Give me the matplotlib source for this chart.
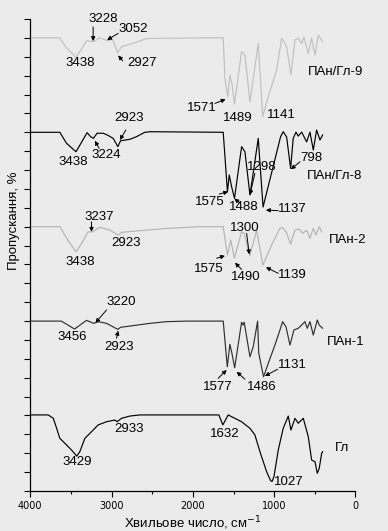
import matplotlib
matplotlib.use("Agg")
import matplotlib.pyplot as plt
from matplotlib.ticker import MultipleLocator

# ---------------- data ----------------
# ПАн/Гл-9
wn_g9 = [4000, 3637, 3560, 3438, 3305, 3228, 3145, 3052, 2988, 2927, 2878, 2739, 2566, 1852,
         1627, 1606, 1571, 1545, 1520, 1489, 1401, 1380, 1360, 1298, 1196, 1141, 1073, 970,
         908, 847, 794, 745, 704, 662, 634, 581, 539, 498, 458, 404]
t_g9 = [24.0, 24.0, 23.5, 22.97, 23.85, 23.80, 24.0, 23.85, 23.92, 23.21, 23.53, 23.71, 23.97, 24.0,
        24.0, 21.86, 20.88, 22.03, 21.61, 20.50, 23.27, 23.20, 23.09, 20.62, 23.71, 19.83, 20.88, 22.30,
        23.98, 23.53, 22.03, 23.89, 23.98, 23.71, 24.03, 23.18, 23.98, 23.09, 24.15, 23.80]

# ПАн/Гл-8
wn_g8 = [4000, 3637, 3555, 3438, 3301, 3259, 3224, 3178, 3104, 3055, 2981, 2923, 2890, 2775,
         2693, 2591, 2529, 1627, 1575, 1553, 1524, 1488, 1401, 1360, 1298, 1196, 1137, 921,
         889, 847, 798, 766, 732, 704, 662, 601, 560, 519, 478, 437, 404]
t_g8 = [19.0, 19.0, 18.42, 17.97, 18.98, 18.77, 18.68, 18.95, 18.95, 18.86, 18.68, 18.24, 18.55, 18.63,
        18.77, 19.0, 19.03, 19.0, 15.85, 16.74, 16.12, 15.50, 18.24, 17.97, 15.68, 18.68, 15.04, 18.77,
        19.03, 18.75, 17.09, 18.68, 19.01, 18.80, 19.01, 18.49, 19.01, 18.06, 19.12, 18.59, 18.86]

# ПАн-2
wn_p2 = [4000, 3637, 3539, 3438, 3366, 3289, 3237, 3145, 3022, 2923, 2878, 2652, 2324, 1914,
         1627, 1600, 1575, 1535, 1490, 1401, 1372, 1300, 1216, 1139, 1031, 929, 896, 847, 798,
         745, 695, 650, 601, 560, 519, 486, 446, 416]
t_p2 = [14.0, 14.0, 13.29, 12.67, 13.14, 13.73, 13.72, 13.97, 13.82, 13.56, 13.70, 13.79, 13.91, 14.0,
        14.0, 13.2, 12.50, 13.29, 12.33, 13.73, 13.67, 12.46, 13.82, 11.97, 13.03, 13.91, 13.95, 13.67, 13.07,
        13.82, 13.88, 13.65, 13.82, 13.38, 13.91, 13.56, 14.0, 13.73]

# ПАн-1
wn_p1 = [4000, 3620, 3540, 3456, 3308, 3220, 3166, 3062, 2923, 2890, 2735, 2529, 2324, 2078,
         1627, 1577, 1545, 1524, 1486, 1401, 1381, 1369, 1298, 1258, 1204, 1190, 1131, 1073, 991,
         929, 896, 855, 806, 757, 704, 662, 622, 593, 560, 519, 470, 446, 404]
t_p1 = [9.0, 9.0, 8.8, 8.58, 9.04, 8.88, 8.97, 8.88, 8.56, 8.67, 8.76, 8.88, 8.97, 9.0,
        9.0, 6.58, 7.77, 7.38, 6.53, 8.94, 8.79, 8.94, 7.11, 7.64, 9.0, 7.3, 6.05, 6.76, 7.73,
        8.53, 8.97, 8.70, 7.73, 8.53, 8.62, 8.79, 8.97, 8.62, 8.97, 8.26, 9.06, 8.79, 8.62]

# Гл
wn_gl = [4000, 3780, 3717, 3676, 3637, 3575, 3493, 3429, 3391, 3329, 3247, 3166, 3062, 2960,
         2933, 2878, 2775, 2652, 1860, 1680, 1632, 1566, 1401, 1298, 1237, 1175, 1093, 1044,
         1027, 1003, 950, 889, 827, 794, 745, 704, 642, 581, 539, 498, 470, 446, 416, 404]
t_gl = [4.03, 4.03, 3.85, 3.32, 2.79, 2.53, 2.17, 1.85, 2.08, 2.79, 3.14, 3.50, 3.67, 3.76,
        3.67, 3.85, 3.97, 4.03, 4.03, 4.03, 3.50, 4.03, 3.67, 3.32, 2.97, 2.08, 1.02, 0.55,
        0.50, 0.76, 2.17, 3.32, 3.97, 3.23, 3.85, 3.59, 3.85, 2.88, 1.64, 1.55, 0.94, 1.20, 2.0, 2.08]

series = [
    (wn_g9, t_g9, "#C0C0C0"),
    (wn_g8, t_g8, "#000000"),
    (wn_p2, t_p2, "#B4B4B4"),
    (wn_p1, t_p1, "#303030"),
    (wn_gl, t_gl, "#000000"),
]

# peak labels: (text, x, y)
labels = [
    ("3228", 3108, 24.98), ("3052", 2739, 24.45), ("3438", 3391, 22.65), ("2927", 2620, 22.69),
    ("1571", 1889, 20.27), ("1489", 1442, 19.74), ("1141", 908, 19.92),
    ("2923", 2788, 19.74), ("3438", 3473, 17.44), ("3224", 3062, 17.80), ("1575", 1791, 15.32),
    ("1488", 1369, 15.02), ("1298", 1154, 17.18), ("1137", 775, 14.92), ("798", 548, 17.62),
    ("3237", 3157, 14.53), ("2923", 2828, 13.12), ("3438", 3391, 12.13), ("1575", 1803, 11.74),
    ("1490", 1350, 11.32), ("1300", 1364, 13.91), ("1139", 778, 11.44),
    ("3220", 2886, 9.99), ("3456", 3489, 8.17), ("2923", 2905, 7.64), ("1577", 1696, 5.52),
    ("1486", 1154, 5.52), ("1131", 782, 6.67),
    ("3429", 3425, 1.55), ("2933", 2788, 3.27), ("1632", 1610, 3.02), ("1027", 822, 0.49),
]

# arrows: (tail_x, tail_y, head_x, head_y)
arrows = [
    (3227, 24.58, 3227, 23.83), (2919, 24.24, 3055, 23.89), (2862, 22.78, 2919, 23.07),
    (1729, 20.53, 1598, 20.75),
    (2825, 19.12, 2899, 18.59), (3153, 18.15, 3206, 18.55), (1676, 15.73, 1566, 15.85),
    (1422, 15.25, 1489, 15.49), (1237, 16.83, 1298, 15.68), (950, 14.85, 1102, 14.88),
    (683, 17.44, 794, 17.04),
    (3247, 14.26, 3247, 13.73), (1708, 12.33, 1606, 12.46), (1401, 11.74, 1483, 12.09),
    (1339, 13.65, 1307, 12.54), (950, 11.53, 1102, 11.85),
    (3062, 9.59, 3198, 8.91), (2939, 8.09, 2919, 8.49), (1689, 5.97, 1585, 6.41),
    (1360, 5.92, 1462, 6.32), (958, 6.45, 1114, 6.09),
]

names = [("ПАн/Гл-9", 581, 22.21), ("ПАн/Гл-8", 601, 16.68), ("ПАн-2", 322, 13.29),
         ("ПАн-1", 354, 7.91), ("Гл", 252, 2.26)]

xticks = [4000, 3000, 2000, 1000, 0]

# ---------------- plot ----------------
bg = "#EBEBEB"
fig = plt.figure(figsize=(3.88, 5.31), dpi=100, facecolor=bg)
ax = fig.add_axes([0.0781, 0.0753, 0.8381, 0.8889])
ax.set_facecolor(bg)

for wn, t, c in series:
    ax.plot(wn, t, color=c, lw=0.85)

lab_font = dict(family=["Liberation Sans", "DejaVu Sans"], size=9.5)
for txt, x, y in labels:
    ax.text(x, y, txt, ha="center", va="center", clip_on=False, **lab_font)
for txt, x, y in names:
    ax.text(x, y, txt, ha="left", va="center", clip_on=False, **lab_font)
for tx, ty, hx, hy in arrows:
    ax.annotate("", xy=(hx, hy), xytext=(tx, ty), annotation_clip=False,
                arrowprops=dict(arrowstyle="-|>", lw=0.7, color="black",
                                mutation_scale=6, shrinkA=0, shrinkB=0))

ax.set_xlim(4000, 0)
ax.set_ylim(0, 25)
ax.set_xticks(xticks)
ax.xaxis.set_minor_locator(MultipleLocator(500))
ax.yaxis.set_major_locator(MultipleLocator(1))
ax.set_yticklabels([])
ax.tick_params(axis="x", which="major", length=4.5, width=0.8, labelsize=7, pad=3)
ax.tick_params(axis="x", which="minor", length=2.5, width=0.8)
ax.tick_params(axis="y", which="major", length=4, width=0.8)
for s in ("top", "right"):
    ax.spines[s].set_visible(False)
for s in ("left", "bottom"):
    ax.spines[s].set_linewidth(0.9)

ax.set_xlabel("Хвильове число, см$^{-1}$", family=["Liberation Sans", "DejaVu Sans"],
              fontsize=9.5, labelpad=2)
fig.text(0.036, (531 - 221) / 531, "Пропускання, %", rotation=90, ha="center", va="center",
         family=["Liberation Sans", "DejaVu Sans"], fontsize=9.5)

fig.savefig("out.png", dpi=100, facecolor=bg)
